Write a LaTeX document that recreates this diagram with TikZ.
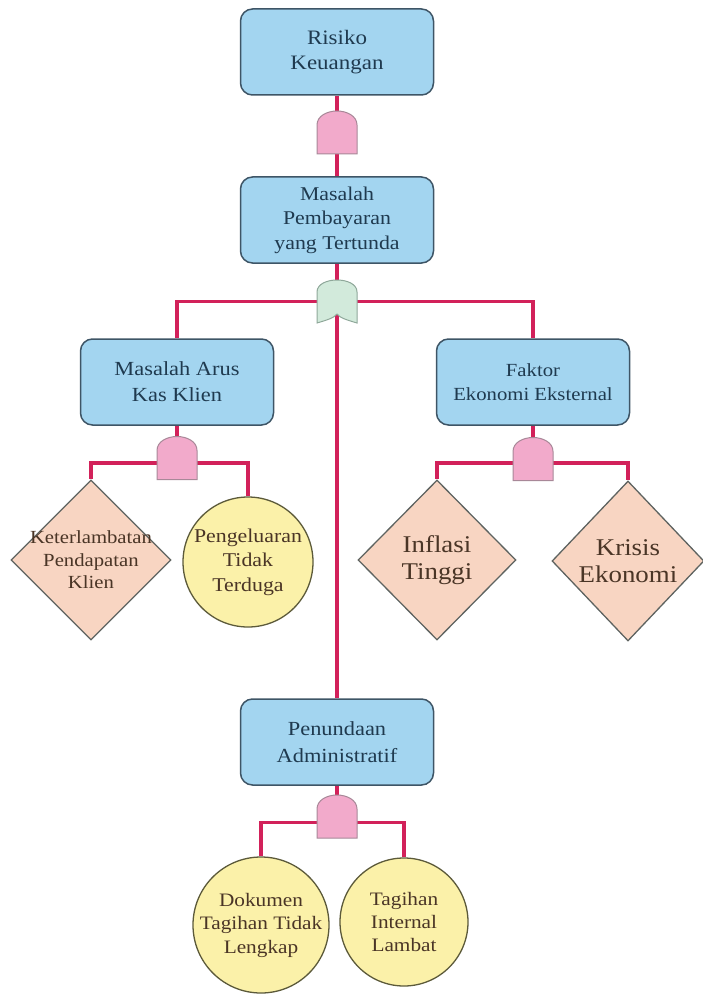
\documentclass[tikz,border=0pt]{standalone}
\usepackage{fontspec}
\setmainfont{Liberation Serif}[FakeStretch=1.12]
\usetikzlibrary{shapes.geometric}
\definecolor{boxfill}{HTML}{A3D5F0}
\definecolor{boxdraw}{HTML}{3E5566}
\definecolor{boxtext}{HTML}{1F3A4F}
\definecolor{diafill}{HTML}{F8D5C2}
\definecolor{diadraw}{HTML}{5E6360}
\definecolor{circfill}{HTML}{FBF1A9}
\definecolor{circdraw}{HTML}{5C5A3A}
\definecolor{shapetext}{HTML}{4A3526}
\definecolor{andfill}{HTML}{F2AACB}
\definecolor{anddraw}{HTML}{A88898}
\definecolor{orfill}{HTML}{D2EADB}
\definecolor{ordraw}{HTML}{8FA89A}
\definecolor{wire}{HTML}{D2215A}
\pgfdeclarelayer{bg}
\pgfsetlayers{bg,main}
\newcommand\fs[2]{\fontsize{#1}{#2}\selectfont}
\newcommand\drawandgate[1]{\draw[andg] (#1.south west) -- ([yshift=29pt]#1.south west) .. controls +(0,9) and +(-10,0) .. (#1.north) .. controls +(10,0) and +(0,9) .. ([yshift=29pt]#1.south east) -- (#1.south east) -- cycle;}
\newcommand\droworgate[1]{\draw[org] (#1.south west) -- ([yshift=31pt]#1.south west) .. controls +(0,8) and +(-10,0) .. (#1.north) .. controls +(10,0) and +(0,8) .. ([yshift=31pt]#1.south east) -- (#1.south east) .. controls +(-10,3) and +(3,-4) .. ([yshift=9pt]#1.south) .. controls +(-3,-4) and +(10,3) .. (#1.south west) -- cycle;}
\tikzset{
  fbox/.style={draw=boxdraw, line width=1.5pt, fill=boxfill, rounded corners=12pt,
    minimum width=193pt, minimum height=86pt, inner sep=0pt, align=center, text=boxtext},
  dia/.style={shape=diamond, draw=diadraw, line width=1.3pt, fill=diafill, inner sep=0pt,
    minimum height=160pt},
  circ/.style={shape=circle, draw=circdraw, line width=1.3pt, fill=circfill, inner sep=0pt},
  stext/.style={align=center, text=shapetext, inner sep=0pt},
  gatebox/.style={minimum width=40pt, minimum height=43pt, inner sep=0pt, outer sep=0pt},
  andg/.style={draw=anddraw, fill=andfill, line width=1pt},
  org/.style={draw=ordraw, fill=orfill, line width=1pt},
  wireline/.style={draw=wire, line width=3.5pt}
}
\begin{document}
\begin{tikzpicture}[x=1pt,y=1pt]
\useasboundingbox (0,0) rectangle (702,-995);
% boxes
\node[fbox, font=\fs{20.5}{25}] (rk) at (337,-52) {Risiko\\Keuangan};
\node[fbox, font=\fs{19.5}{24.5}] (mp) at (337,-220) {Masalah\\Pembayaran\\yang Tertunda};
\node[fbox, font=\fs{20}{26}] (ma) at (177,-382) {Masalah Arus\\Kas Klien};
\node[fbox, font=\fs{18.5}{24}] (fe) at (533,-382) {Faktor\\Ekonomi Eksternal};
\node[fbox, font=\fs{20}{27}] (pa) at (337,-742) {Penundaan\\Administratif};
% gates
\node[gatebox] (g1) at (337,-132.5) {};
\node[gatebox] (g2) at (337,-301.5) {};
\node[gatebox] (g3) at (177,-458) {};
\node[gatebox] (g4) at (533,-459) {};
\node[gatebox] (g5) at (337,-816.5) {};
% events
\node[dia, minimum width=160pt,
  label={[stext, font=\fs{18.5}{22.5}]center:{Keterlambatan\\Pendapatan\\Klien}}] (d1) at (91,-560) {};
\node[circ, minimum size=130pt,
  label={[stext, font=\fs{19.5}{24.5}]center:{Pengeluaran\\Tidak\\Terduga}}] (c1) at (248,-562) {};
\node[dia, minimum width=158pt,
  label={[stext, font=\fs{24}{27}]center:{Inflasi\\Tinggi}}] (d2) at (437,-560) {};
\node[dia, minimum width=152pt,
  label={[stext, font=\fs{24}{27}]center:{Krisis\\Ekonomi}}] (d3) at (628,-561) {};
\node[circ, minimum size=136pt,
  label={[stext, font=\fs{19}{23.5}]center:{Dokumen\\Tagihan Tidak\\Lengkap}}] (c2) at (261,-925) {};
\node[circ, minimum size=128pt,
  label={[stext, font=\fs{19}{23}]center:{Tagihan\\Internal\\Lambat}}] (c3) at (404,-922) {};
% connectors
\begin{pgfonlayer}{bg}
\draw[wireline] (rk.south) -- (g1.north);
\draw[wireline] (g1.south) -- (mp.north);
\draw[wireline] (mp.south) -- (g2.north);
\draw[wireline] (g2.west) -| (ma.north);
\draw[wireline] (g2.east) -| (fe.north);
\draw[wireline] (g2.center) -- (pa.north);
\draw[wireline] (ma.south) -- (g3.north);
\draw[wireline] ([yshift=-5pt]g3.west) -| (d1.north);
\draw[wireline] ([yshift=-5pt]g3.east) -| (c1.north);
\draw[wireline] (fe.south) -- (g4.north);
\draw[wireline] ([yshift=-4pt]g4.west) -| (d2.north);
\draw[wireline] ([yshift=-4pt]g4.east) -| (d3.north);
\draw[wireline] (pa.south) -- (g5.north);
\draw[wireline] ([yshift=-6pt]g5.west) -| (c2.north);
\draw[wireline] ([yshift=-6pt]g5.east) -| (c3.north);
\end{pgfonlayer}
\drawandgate{g1}
\droworgate{g2}
\drawandgate{g3}
\drawandgate{g4}
\drawandgate{g5}
\end{tikzpicture}
\end{document}
